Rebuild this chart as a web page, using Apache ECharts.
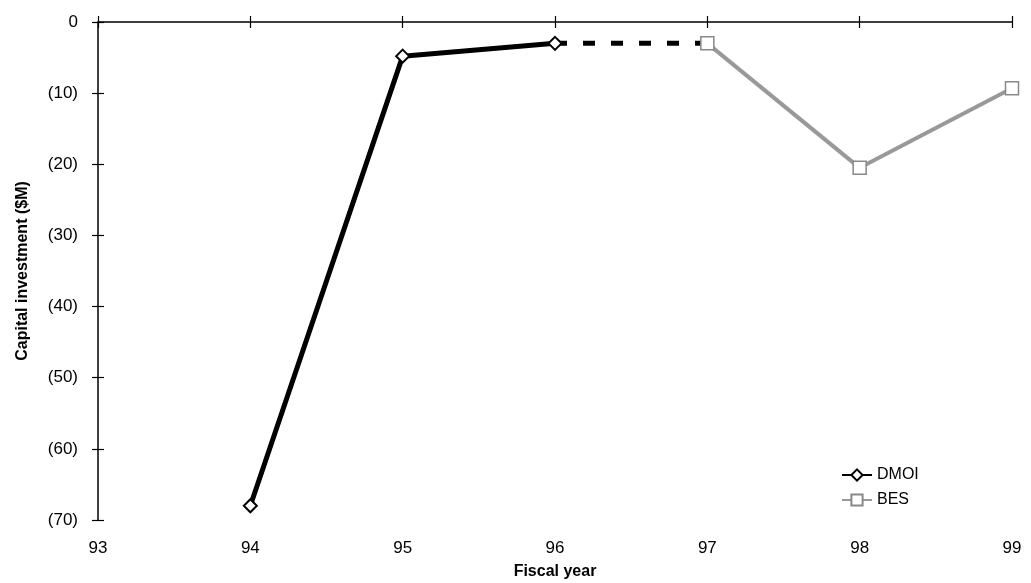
<!DOCTYPE html>
<html>
<head>
<meta charset="utf-8">
<script src="https://cdn.jsdelivr.net/npm/echarts@6/dist/echarts.min.js"></script>
<style>
  html, body { margin: 0; padding: 0; background: #fff; }
  #chart { width: 1031px; height: 583px; }
</style>
</head>
<body>
<div id="chart"></div>
<script>
var dmoiYears = [94, 95, 96];
var dmoiValues = [68, 4.8, 3];
var linkYears = [96, 97];
var linkValues = [3, 3];
var besYears = [97, 98, 99];
var besValues = [3, 20.5, 9.3];

function pairs(xs, ys) {
    return xs.map(function (x, i) { return [x, ys[i]]; });
}

var myChart = echarts.init(document.getElementById('chart'));

var font = 'Liberation Sans, Arial, sans-serif';

// axis with ticks only, used twice so the ticks cross the axis line
function tickAxis(pos, inside) {
    return {
        type: 'value',
        position: pos,
        min: pos === 'top' ? 93 : 0,
        max: pos === 'top' ? 99 : 70,
        interval: pos === 'top' ? 1 : 10,
        inverse: pos === 'left',
        axisLine: { show: false, onZero: false },
        axisTick: { show: true, inside: inside, length: 6, lineStyle: { color: '#000', width: 1.2 } },
        axisLabel: { show: false },
        splitLine: { show: false }
    };
}

var option = {
    backgroundColor: '#fff',
    animation: false,
    grid: {
        left: 98,
        right: 19,
        top: 22,
        bottom: 63,
        outerBoundsMode: 'none'
    },
    legend: {
        orient: 'vertical',
        left: 836,
        top: 462,
        itemWidth: 30,
        itemHeight: 14,
        itemGap: 9,
        data: ['DMOI', 'BES'],
        textStyle: {
            color: '#000',
            fontSize: 16,
            fontFamily: font
        }
    },
    xAxis: [{
        type: 'value',
        position: 'top',
        min: 93,
        max: 99,
        interval: 1,
        axisLine: { show: true, onZero: false, lineStyle: { color: '#000', width: 1.5 } },
        axisTick: { show: true, length: 6, lineStyle: { color: '#000', width: 1.2 } },
        axisLabel: { show: false },
        splitLine: { show: false }
    }, {
        type: 'value',
        position: 'bottom',
        min: 93,
        max: 99,
        interval: 1,
        name: 'Fiscal year',
        nameLocation: 'middle',
        nameGap: 44,
        nameTextStyle: { color: '#000', fontSize: 16, fontWeight: 'bold', fontFamily: font },
        axisLine: { show: false },
        axisTick: { show: false },
        axisLabel: { color: '#000', fontSize: 17, margin: 20, fontFamily: font },
        splitLine: { show: false }
    }, tickAxis('top', true)],
    yAxis: [{
        type: 'value',
        inverse: true,
        min: 0,
        max: 70,
        interval: 10,
        name: 'Capital investment ($M)',
        nameLocation: 'middle',
        nameGap: 67,
        nameTextStyle: { color: '#000', fontSize: 16, fontWeight: 'bold', fontFamily: font },
        axisLine: { show: true, lineStyle: { color: '#000', width: 1.5 } },
        axisTick: { show: true, length: 6, lineStyle: { color: '#000', width: 1.2 } },
        axisLabel: {
            color: '#000',
            fontSize: 17,
            margin: 20,
            fontFamily: font,
            formatter: function (v) { return v === 0 ? '0' : '(' + v + ')'; }
        },
        splitLine: { show: false }
    }, tickAxis('left', true)],
    series: [{
        name: 'DMOI',
        type: 'line',
        xAxisIndex: 1,
        data: pairs(dmoiYears, dmoiValues),
        symbol: 'diamond',
        symbolSize: 13,
        lineStyle: { color: '#000', width: 5 },
        itemStyle: { color: '#fff', borderColor: '#000', borderWidth: 2 },
        z: 3
    }, {
        name: 'link',
        type: 'line',
        xAxisIndex: 1,
        data: pairs(linkYears, linkValues),
        symbol: 'none',
        lineStyle: { color: '#000', width: 5, type: [12, 16] },
        z: 2
    }, {
        name: 'BES',
        type: 'line',
        xAxisIndex: 1,
        data: pairs(besYears, besValues),
        symbol: 'rect',
        symbolSize: 13,
        lineStyle: { color: '#999', width: 4 },
        itemStyle: { color: '#fff', borderColor: '#888', borderWidth: 1.5 },
        z: 3
    }]
};

myChart.setOption(option);
window.addEventListener('resize', function () {
    myChart.resize();
});
</script>
</body>
</html>
